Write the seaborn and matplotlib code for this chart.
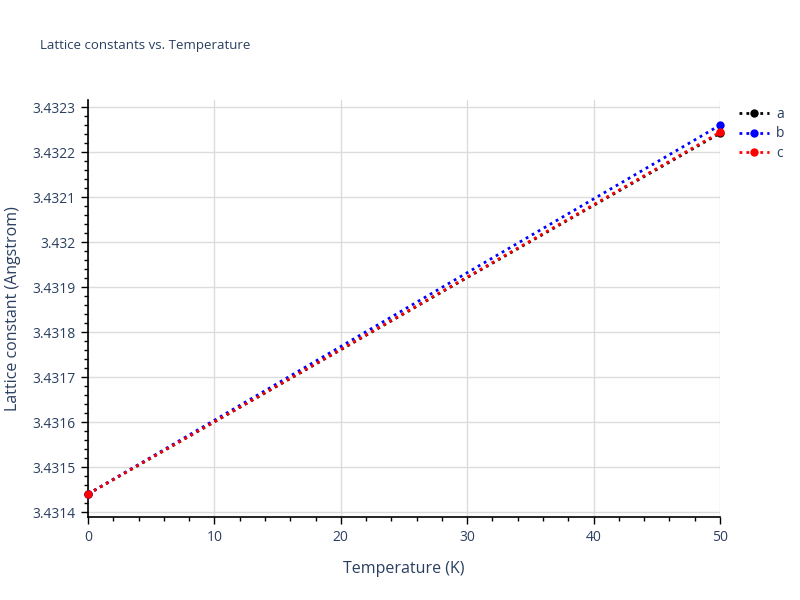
import matplotlib
matplotlib.use("Agg")
import matplotlib.pyplot as plt
from matplotlib.ticker import MultipleLocator, FuncFormatter
import pandas as pd
import seaborn as sns

# donnees
temperature = [0, 50]
lattice_a = [3.43144, 3.432242]
lattice_b = [3.43144, 3.432260]
lattice_c = [3.43144, 3.432244]

series_names = ["a", "b", "c"]
series_colors = ["black", "blue", "red"]

sns.set_theme(style="white")
plt.rcParams["font.family"] = ["Open Sans", "DejaVu Sans"]

text_color = "#2a3f5f"
grid_color = "#dcdcdc"

fig = plt.figure(figsize=(8, 6), dpi=100)
ax = fig.add_axes([0.11, 0.138, 0.79, 0.695])

for name, vals, col in zip(series_names, [lattice_a, lattice_b, lattice_c], series_colors):
    df = pd.DataFrame({"T": temperature, "L": vals})
    sns.lineplot(data=df, x="T", y="L", ax=ax, color=col, marker="o",
                 markersize=6, markeredgewidth=0, linewidth=2,
                 linestyle=(0, (1, 1.5)), label=name, zorder=3)

# marqueurs entiers aux bords
for line in ax.get_lines():
    line.set_clip_on(False)

ax.set_xlim(0, 50)
ax.set_ylim(3.4313885, 3.4323155)

ax.xaxis.set_major_locator(MultipleLocator(10))
ax.xaxis.set_minor_locator(MultipleLocator(2))
ax.yaxis.set_major_locator(MultipleLocator(0.0001))
ax.yaxis.set_minor_locator(MultipleLocator(0.00002))


def fmt_y(v, pos):
    s = f"{v:.4f}".rstrip("0").rstrip(".")
    return s


ax.yaxis.set_major_formatter(FuncFormatter(fmt_y))

ax.grid(True, which="major", color=grid_color, linewidth=1)
ax.set_axisbelow(True)
for side in ["top", "right"]:
    ax.spines[side].set_visible(False)
for side in ["left", "bottom"]:
    ax.spines[side].set_color("black")
    ax.spines[side].set_linewidth(1.2)

ax.tick_params(which="major", direction="out", length=5, width=1, color="black",
               labelsize=10, labelcolor=text_color, left=True, bottom=True, pad=4)
ax.tick_params(which="minor", direction="out", length=3, width=1, color="black",
               left=True, bottom=True)

ax.set_xlabel("Temperature (K)", fontsize=11.5, color=text_color, labelpad=12)
ax.set_ylabel("Lattice constant (Angstrom)", fontsize=11.5, color=text_color, labelpad=8)

fig.text(0.05, 0.925, "Lattice constants vs. Temperature", fontsize=9.5,
         color=text_color, va="center")

leg = ax.legend(loc="upper left", bbox_to_anchor=(1.01, 1.013), frameon=False,
                fontsize=10, handlelength=2.2, labelspacing=0.3, handletextpad=0.5)
for t in leg.get_texts():
    t.set_color(text_color)

fig.savefig("out.png", dpi=100)
